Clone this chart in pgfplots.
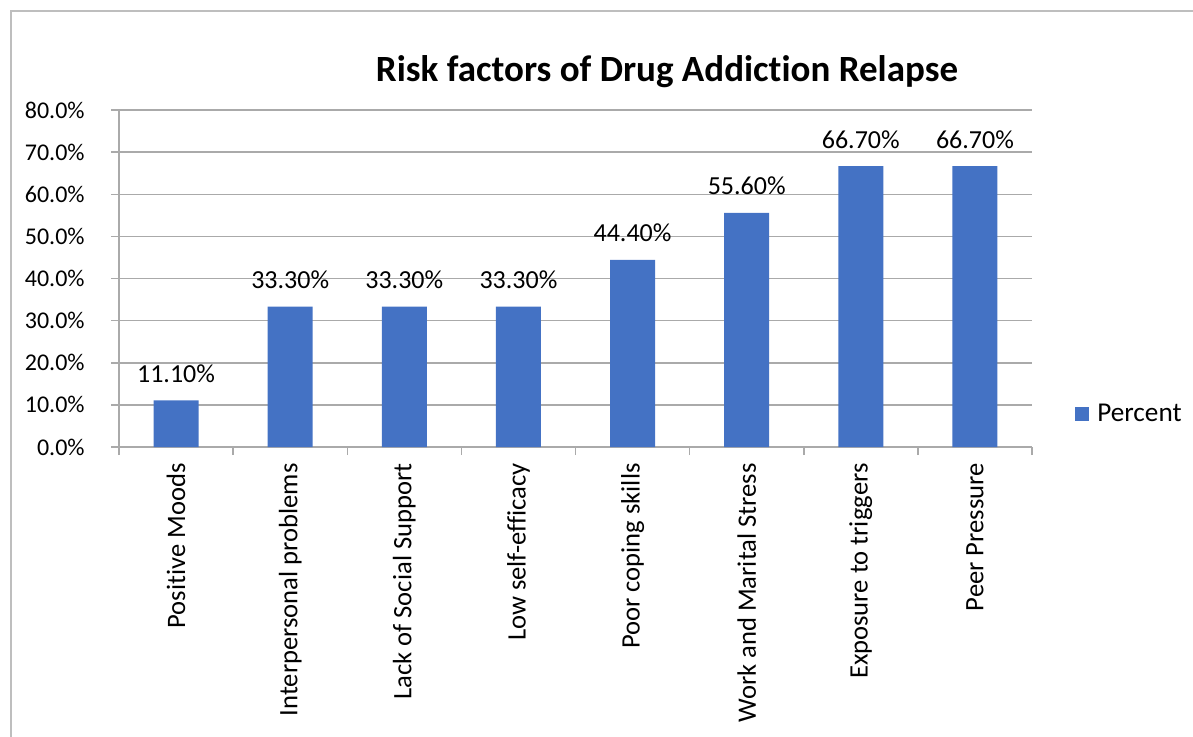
\documentclass[border=0pt]{standalone}
\usepackage{pgfplots}
\pgfplotsset{compat=1.18}
\usepackage{fontspec}
\setmainfont{Carlito}[Ligatures=NoCommon]
\definecolor{barblue}{HTML}{4472C4}
\definecolor{gridgray}{RGB}{170,170,170}
\definecolor{framegray}{RGB}{190,190,190}

\begin{document}
\begin{tikzpicture}
\useasboundingbox (0,0) rectangle (596.5pt,368pt);
\draw[framegray, line width=0.75pt] (5.5pt,-1pt) -- (5.5pt,362.5pt) -- (598pt,362.5pt);
\begin{axis}[
  at={(59.5pt,144.5pt)}, anchor=south west,
  width=456.5pt, height=168.5pt, scale only axis,
  xmin=-0.5, xmax=7.5, ymin=0, ymax=80,
  axis x line*=bottom, axis y line*=left,
  axis line style={gridgray, line width=0.75pt, -},
  /pgf/number format/assume math mode=true,
  ytick={0,10,...,80},
  yticklabel={\pgfmathprintnumber[fixed,fixed zerofill,precision=1]{\tick}\%},
  yticklabel style={anchor=east, inner sep=0pt, xshift=-13pt, font=\fontsize{12}{14}\selectfont},
  ymajorgrids, major grid style={gridgray, line width=0.75pt},
  tick style={gridgray, line width=0.75pt},
  major tick length=4pt, tick align=outside,
  xtick={-0.5,0.5,...,7.5}, xticklabels={},
  extra x ticks={0,1,2,3,4,5,6,7},
  extra x tick labels={Positive Moods, Interpersonal problems, Lack of Social Support, Low self-efficacy, Poor coping skills, Work and Marital Stress, Exposure to triggers, Peer Pressure},
  extra x tick style={major tick length=0pt, tick style={draw=none},
    xticklabel style={rotate=90, anchor=east, inner sep=0pt, xshift=-8pt, font=\fontsize{13.3}{15}\selectfont}},
  legend style={at={(1.047,0.098)}, anchor=west, draw=none, fill=none, inner sep=0pt,
    font=\fontsize{13.6}{15}\selectfont, cells={anchor=west},
    /tikz/every odd column/.append style={column sep=2pt}},
  clip=false,
]
\addplot[ybar, bar width=22.5pt, fill=barblue, draw=none, point meta=y,
  nodes near coords={\pgfmathprintnumber[fixed,fixed zerofill,precision=2]{\pgfplotspointmeta}\%},
  every node near coord/.append style={anchor=base, inner sep=0pt, yshift=9pt, font=\fontsize{13}{15}\selectfont, text=black},
  legend image code/.code={\fill[barblue] (0pt,-3.5pt) rectangle (7pt,3.5pt);}]
coordinates {(0,11.1) (1,33.3) (2,33.3) (3,33.3) (4,44.4) (5,55.6) (6,66.7) (7,66.7)};
\addlegendentry{Percent}
\end{axis}
\node[anchor=base, font=\bfseries\fontsize{18.5}{22}\selectfont] at (333.5pt,327.5pt) {Risk factors of Drug Addiction Relapse};
\end{tikzpicture}
\end{document}
